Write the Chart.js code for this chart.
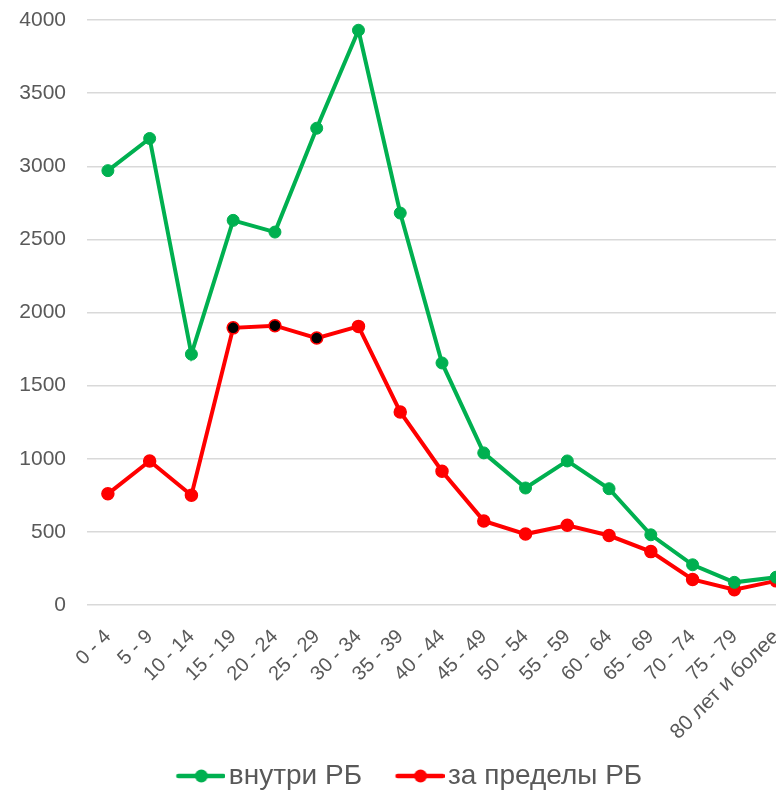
<!DOCTYPE html>
<html>
<head>
<meta charset="utf-8">
<script src="https://cdn.jsdelivr.net/npm/chart.js@4"></script>
<style>
  html, body { margin: 0; padding: 0; background: #fff; overflow: hidden; }
  #wrap { width: 776px; height: 802px; overflow: hidden; position: relative; }
  #box { width: 820px; height: 802px; position: absolute; left: 0; top: 0; }
</style>
</head>
<body>
<div id="wrap"><div id="box"><canvas id="c"></canvas></div></div>
<script>
const categories = ["0 - 4","5 - 9","10 - 14","15 - 19","20 - 24","25 - 29","30 - 34","35 - 39","40 - 44","45 - 49","50 - 54","55 - 59","60 - 64","65 - 69","70 - 74","75 - 79","80 лет и более"];
const insideRB = [2970, 3190, 1715, 2630, 2550, 3260, 3930, 2680, 1655, 1040, 800, 985, 795, 480, 275, 155, 190];
const outsideRB = [760, 985, 750, 1895, 1910, 1825, 1905, 1320, 915, 575, 485, 545, 475, 365, 175, 105, 165];
const seriesNames = ["внутри РБ", "за пределы РБ"];
const yTicks = [0, 500, 1000, 1500, 2000, 2500, 3000, 3500, 4000];

const GREEN = "#00B050", RED = "#FF0000", TXT = "#595959";
const FONT = "'Liberation Sans', Arial, sans-serif";

const BOXW = 60, IMGW = 81;
function legendIcon(color) {
  const cv = document.createElement("canvas");
  cv.width = IMGW; cv.height = 16;
  const g = cv.getContext("2d");
  g.strokeStyle = color; g.lineWidth = 4.5; g.lineCap = "round";
  g.beginPath(); g.moveTo(IMGW - 47, 8); g.lineTo(IMGW - 2, 8); g.stroke();
  g.fillStyle = color; g.beginPath(); g.arc(IMGW - 24, 8, 6.5, 0, Math.PI * 2); g.fill();
  return cv;
}
const icons = [legendIcon(GREEN), legendIcon(RED)];

const redFill = outsideRB.map((v, i) => (i >= 3 && i <= 5) ? "#000000" : RED);

new Chart(document.getElementById("c"), {
  type: "line",
  data: {
    labels: categories,
    datasets: [
      { label: seriesNames[0], data: insideRB, borderColor: GREEN, backgroundColor: GREEN,
        pointBackgroundColor: GREEN, pointBorderColor: GREEN, borderWidth: 4, pointRadius: 6,
        pointBorderWidth: 1, tension: 0 },
      { label: seriesNames[1], data: outsideRB, borderColor: RED, backgroundColor: RED,
        pointBackgroundColor: redFill, pointBorderColor: RED, borderWidth: 4, pointRadius: 6,
        pointBorderWidth: 1.5, tension: 0 }
    ]
  },
  options: {
    responsive: true,
    maintainAspectRatio: false,
    animation: false,
    layout: { padding: { left: 0, top: 20, right: 23, bottom: 2 } },
    plugins: {
      tooltip: { enabled: false },
      legend: {
        position: "bottom",
        labels: {
          usePointStyle: true,
          pointStyleWidth: BOXW,
          padding: 12,
          color: TXT,
          font: { size: 28, family: FONT },
          generateLabels(chart) {
            const items = Chart.defaults.plugins.legend.labels.generateLabels(chart);
            items.forEach((it, i) => { it.pointStyle = icons[i]; });
            return items;
          }
        }
      }
    },
    scales: {
      x: {
        offset: true,
        grid: { display: false },
        border: { display: false },
        ticks: { color: TXT, minRotation: 45, maxRotation: 45, padding: 12,
                 autoSkip: false,
                 font: (ctx) => ({ size: ctx.index === categories.length - 1 ? 21 : 20, family: FONT }) },
        afterFit(s) { s.height = 145; }
      },
      y: {
        min: 0, max: 4000,
        afterBuildTicks(s) { s.ticks = yTicks.map(v => ({ value: v })); },
        grid: { color: "#D9D9D9", lineWidth: 1.5, drawTicks: true, tickLength: 21, tickColor: "rgba(0,0,0,0)" },
        border: { display: false },
        ticks: { color: TXT, font: { size: 21, family: FONT }, padding: 0,
                 callback: v => String(v) },
        afterFit(s) { s.width = 87; }
      }
    }
  }
});
</script>
</body>
</html>
